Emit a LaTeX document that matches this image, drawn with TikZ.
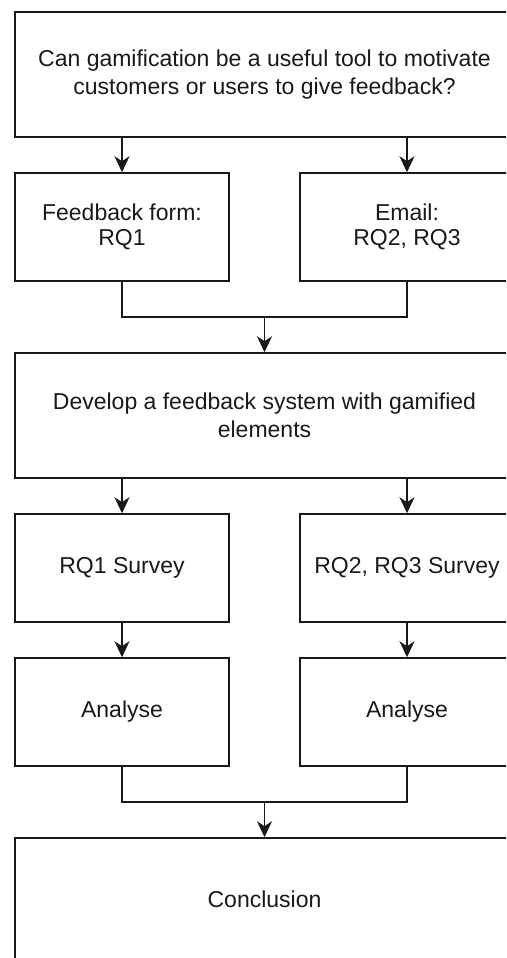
\documentclass[tikz,border=0pt]{standalone}
\usepackage{fontspec}
\setmainfont{Liberation Sans}
\usetikzlibrary{arrows.meta}

\tikzset{
  box/.style={draw=black!90, line width=1.5pt, rectangle, align=center,
    inner sep=0pt, text=black!90},
  widebox/.style={box, minimum width=499pt, minimum height=125pt,
    font=\fontsize{23}{28}\selectfont},
  smallbox/.style={box, minimum width=214pt, minimum height=108pt,
    font=\fontsize{23}{25}\selectfont},
  link/.style={draw=black!90, line width=1.5pt},
  arr/.style={link, -{Stealth[length=16pt, width=15pt, inset=5pt]}},
}

\begin{document}
\begin{tikzpicture}[x=1pt, y=-1pt]
  \useasboundingbox (0,0) rectangle (506,958);
  \clip (0,0) rectangle (506,958);

  % research question
  \node[widebox] (rq) at (264.5,74.5)
    {Can gamification be a useful tool to motivate\\customers or users to give feedback?};

  % data sources
  \node[smallbox] (form)  at (122,227) {Feedback form:\\RQ1};
  \node[smallbox] (email) at (407,227) {Email:\\RQ2, RQ3};

  % development step
  \node[widebox] (dev) at (264.5,415.5)
    {Develop a feedback system with gamified\\elements};

  % surveys
  \node[smallbox] (sv1) at (122,568) {RQ1 Survey};
  \node[smallbox] (sv2) at (407,568) {RQ2, RQ3 Survey};

  % analyses
  \node[smallbox] (an1) at (122,712) {Analyse};
  \node[smallbox] (an2) at (407,712) {Analyse};

  % final step
  \node[widebox, text depth=3pt] (concl) at (264.5,900.5) {Conclusion};

  % junction points
  \coordinate (j1) at (264.5,317);
  \coordinate (j2) at (264.5,802);

  % connectors
  \draw[arr] (form.north |- rq.south) -- (form.north);
  \draw[arr] (email.north |- rq.south) -- (email.north);

  \draw[link] (form.south) |- (j1) -| (email.south);
  \draw[arr] (j1) -- (dev.north);

  \draw[arr] (sv1.north |- dev.south) -- (sv1.north);
  \draw[arr] (sv2.north |- dev.south) -- (sv2.north);

  \draw[arr] (sv1.south) -- (an1.north);
  \draw[arr] (sv2.south) -- (an2.north);

  \draw[link] (an1.south) |- (j2) -| (an2.south);
  \draw[arr] (j2) -- (concl.north);
\end{tikzpicture}
\end{document}
